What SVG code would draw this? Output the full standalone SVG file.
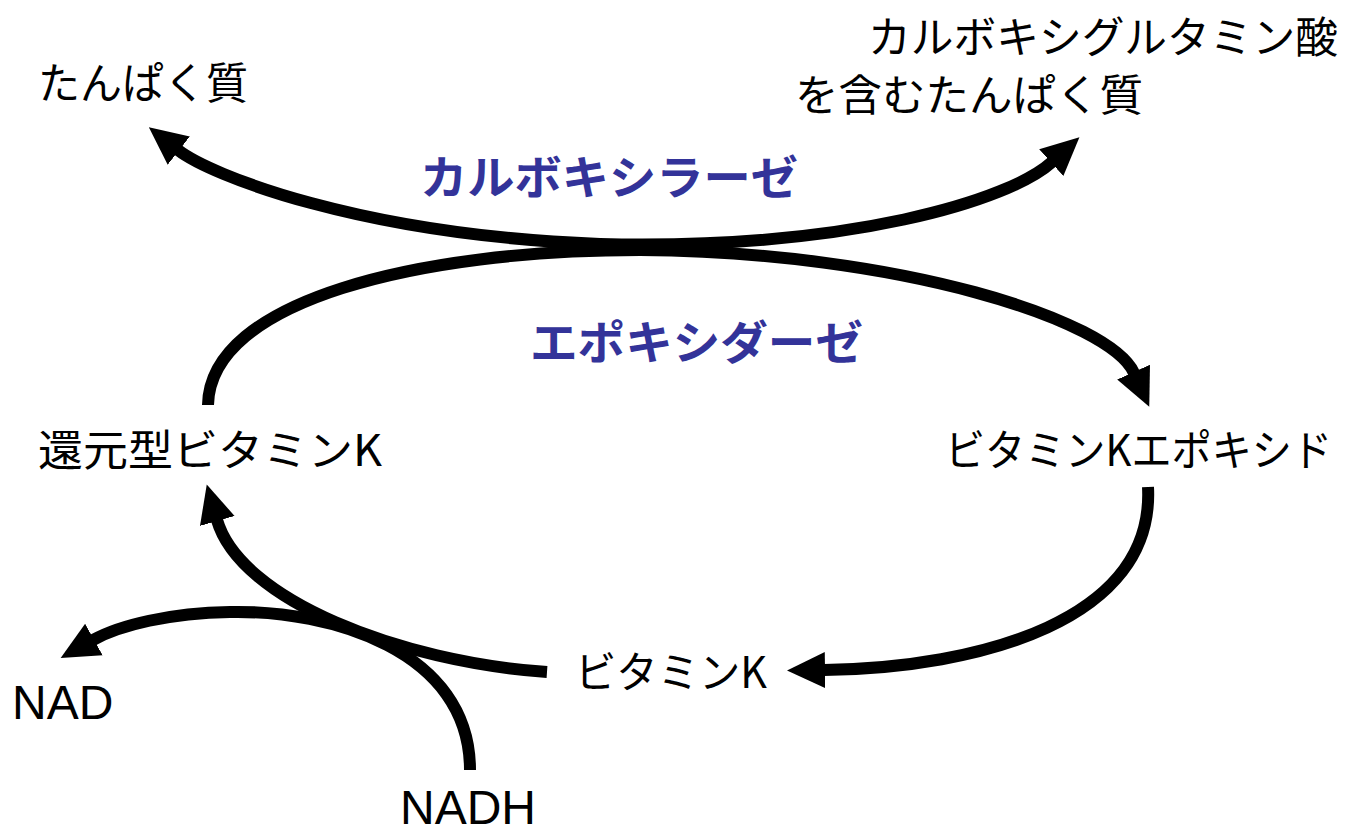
<svg xmlns="http://www.w3.org/2000/svg" width="1359" height="829" viewBox="0 0 1359 829">
<style>
.lbl{font-family:"Noto Sans CJK JP","Noto Sans",sans-serif;font-size:43px;fill:#000}
.lat{font-family:"Liberation Sans",Arial,sans-serif;font-size:48px;fill:#000}
.enz{font-family:"Noto Sans CJK JP","Noto Sans",sans-serif;font-size:46px;font-weight:bold;fill:#333399}
.arc{fill:none;stroke:#000;stroke-width:12}
</style>
<defs>
<marker id="ah" markerUnits="userSpaceOnUse" markerWidth="40" markerHeight="38" viewBox="0 0 40 38" refX="1" refY="19" orient="auto-start-reverse">
<path d="M0,1 L38,19 L0,37 Z" fill="#000"/>
</marker>
</defs>
<rect width="1359" height="829" fill="#fff"/>
<g id="connectors">
<path class="arc" d="M178,150 C 210,175 360,235 600,244 C 850,250 1010,200 1052,162" marker-start="url(#ah)" marker-end="url(#ah)"/>
<path class="arc" d="M208,405 C 210,300 420,250 640,250 C 900,252 1110,320 1134,373" marker-end="url(#ah)"/>
<path class="arc" d="M1148,487 C 1155,620 980,668 824,670" marker-end="url(#ah)"/>
<path class="arc" d="M547,672 C 400,662 240,600 217,520" marker-end="url(#ah)"/>
<path class="arc" d="M470,770 C 470,650 330,610 230,612 C 170,613 120,625 93,640" marker-end="url(#ah)"/>
</g>
<g id="protein"><text class="lbl" x="38" y="99" textLength="210" lengthAdjust="spacingAndGlyphs">たんぱく質</text></g>
<g id="gla-protein">
<text class="lbl" x="868" y="53" textLength="470" lengthAdjust="spacingAndGlyphs">カルボキシグルタミン酸</text>
<text class="lbl" x="795" y="111" textLength="348" lengthAdjust="spacingAndGlyphs">を含むたんぱく質</text>
</g>
<g id="carboxylase"><text class="enz" x="420" y="194" textLength="378" lengthAdjust="spacingAndGlyphs">カルボキシラーゼ</text></g>
<g id="epoxidase"><text class="enz" x="530" y="359" textLength="333" lengthAdjust="spacingAndGlyphs">エポキシダーゼ</text></g>
<g id="reduced-vk"><text class="lbl" x="38" y="466" textLength="344" lengthAdjust="spacingAndGlyphs">還元型ビタミンK</text></g>
<g id="vk-epoxide"><text class="lbl" x="945" y="466" textLength="387" lengthAdjust="spacingAndGlyphs">ビタミンKエポキシド</text></g>
<g id="vk"><text class="lbl" x="575" y="688" textLength="192" lengthAdjust="spacingAndGlyphs">ビタミンK</text></g>
<g id="nad"><text class="lat" x="12" y="719">NAD</text></g>
<g id="nadh"><text class="lat" x="400" y="824">NADH</text></g>
</svg>
